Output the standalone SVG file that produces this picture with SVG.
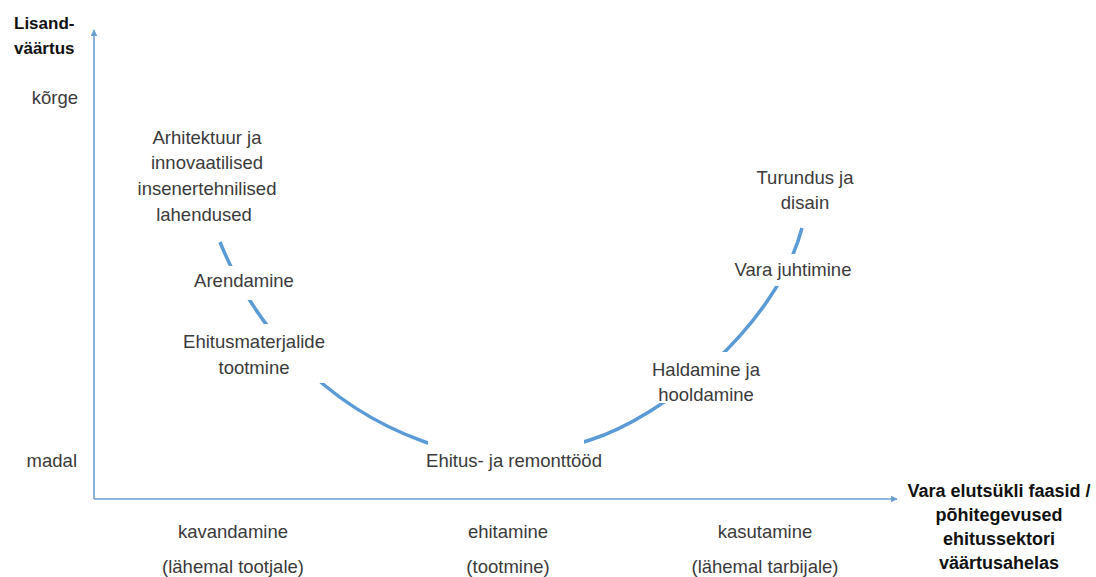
<svg xmlns="http://www.w3.org/2000/svg" width="1096" height="577" viewBox="0 0 1096 577">
  <style>
    .lbl { font-family: "Liberation Sans", Arial, sans-serif; font-size: 18.5px; fill: #3a3a3a; text-anchor: middle; }
    .bold { font-family: "Liberation Sans", Arial, sans-serif; font-size: 18px; font-weight: bold; fill: #111; text-anchor: middle; }
    .axis { stroke: #6a9fd4; stroke-width: 1.6; fill: none; }
    .curve { stroke: #5b9bd5; stroke-width: 3.5; fill: none; stroke-linecap: butt; }
  </style>
  <defs>
    <marker id="arrow" viewBox="0 0 10 10" refX="9" refY="5" markerWidth="7" markerHeight="7" orient="auto" markerUnits="userSpaceOnUse">
      <path d="M0,0 L10,5 L0,10 z" fill="#6a9fd4"/>
    </marker>
    <!-- the value curve is interrupted wherever a phase label sits on it -->
    <mask id="gaps" maskUnits="userSpaceOnUse" x="0" y="0" width="1096" height="577">
      <rect x="0" y="0" width="1096" height="577" fill="#fff"/>
      <rect x="185" y="266" width="120" height="34" fill="#000"/>
      <rect x="170" y="324" width="170" height="59" fill="#000"/>
      <rect x="428" y="428" width="156" height="48" fill="#000"/>
      <rect x="645" y="352" width="125" height="51" fill="#000"/>
      <rect x="725" y="254" width="135" height="32" fill="#000"/>
    </mask>
  </defs>

  <rect width="1096" height="577" fill="#fff"/>

  <!-- axes and value curve -->
  <g id="connectors">
    <path class="axis" d="M94,499 L94,30" marker-end="url(#arrow)"/>
    <path class="axis" d="M94,499 L897,499" marker-end="url(#arrow)"/>
    <path class="curve" mask="url(#gaps)" d="M220,242 C252,322 320,405 425,442 C470,458 545,455 590,440 C660,418 775,330 802,228"/>
  </g>

  <g id="axis-y-title">
    <text class="bold" style="font-size:17px;text-anchor:start" x="14" y="29">Lisand-</text>
    <text class="bold" style="font-size:17px;text-anchor:start" x="14" y="54">väärtus</text>
  </g>
  <g id="axis-y-high"><text class="lbl" style="text-anchor:end" x="78" y="104">kõrge</text></g>
  <g id="axis-y-low"><text class="lbl" style="text-anchor:end" x="77" y="467">madal</text></g>

  <g id="axis-x-title">
    <text class="bold" x="999" y="497">Vara elutsükli faasid /</text>
    <text class="bold" x="999" y="521">põhitegevused</text>
    <text class="bold" x="999" y="545">ehitussektori</text>
    <text class="bold" x="999" y="569">väärtusahelas</text>
  </g>

  <g id="node-arhitektuur">
    <text class="lbl" x="207" y="144">Arhitektuur ja</text>
    <text class="lbl" x="207" y="169">innovaatilised</text>
    <text class="lbl" x="207" y="195">insenertehnilised</text>
    <text class="lbl" x="204" y="221">lahendused</text>
  </g>
  <g id="node-arendamine"><text class="lbl" x="244" y="287">Arendamine</text></g>
  <g id="node-ehitusmaterjalid">
    <text class="lbl" x="254" y="348">Ehitusmaterjalide</text>
    <text class="lbl" x="254" y="374">tootmine</text>
  </g>
  <g id="node-ehitus"><text class="lbl" x="514" y="467">Ehitus- ja remonttööd</text></g>
  <g id="node-haldamine">
    <text class="lbl" x="706" y="376">Haldamine ja</text>
    <text class="lbl" x="706" y="401">hooldamine</text>
  </g>
  <g id="node-vara-juhtimine"><text class="lbl" x="793" y="276">Vara juhtimine</text></g>
  <g id="node-turundus">
    <text class="lbl" x="805" y="184">Turundus ja</text>
    <text class="lbl" x="805" y="209">disain</text>
  </g>

  <g id="phase-kavandamine">
    <text class="lbl" x="233" y="538">kavandamine</text>
    <text class="lbl" x="233" y="573">(lähemal tootjale)</text>
  </g>
  <g id="phase-ehitamine">
    <text class="lbl" x="508" y="538">ehitamine</text>
    <text class="lbl" x="508" y="573">(tootmine)</text>
  </g>
  <g id="phase-kasutamine">
    <text class="lbl" x="765" y="538">kasutamine</text>
    <text class="lbl" x="765" y="573">(lähemal tarbijale)</text>
  </g>
</svg>
